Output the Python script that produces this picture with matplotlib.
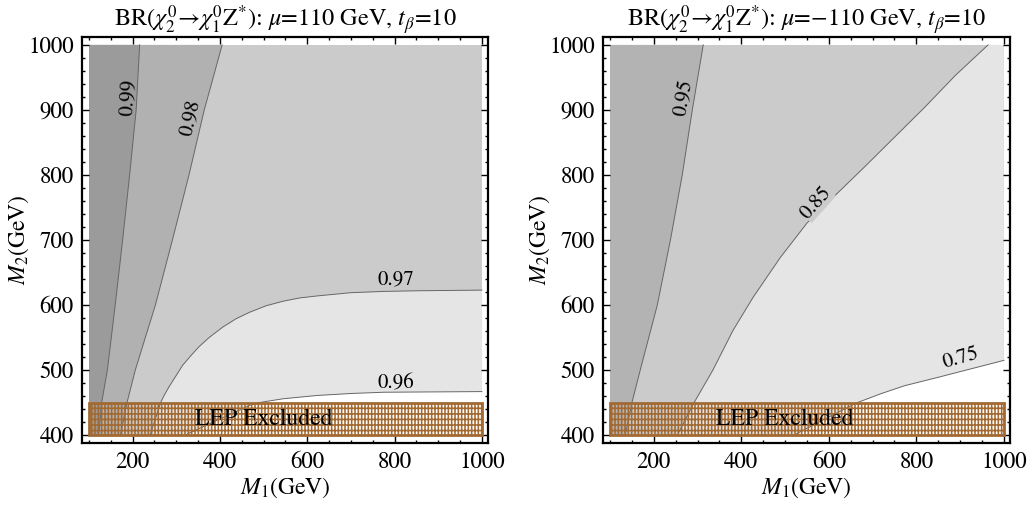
import numpy as np
import matplotlib.pyplot as plt
from matplotlib.patches import Rectangle

plt.rcParams['font.family'] = 'STIXGeneral'
plt.rcParams['mathtext.fontset'] = 'stix'
plt.rcParams['hatch.linewidth'] = 1.15

# grid range of the scan (GeV)
m1_range = [100, 1000]
m2_range = [400, 1000]
lep_m2 = [400, 450]

# left panel, mu = 110 GeV: contour lines
l_c99_y = [400, 450, 500, 600, 700, 800, 900, 1000]
l_c99_x = [122, 129, 142, 160, 177, 193, 208, 216]
l_c98_y = [400, 450, 500, 600, 700, 800, 900, 1000]
l_c98_x = [172, 187, 206, 252, 291, 329, 364, 405]
l_c97_x = [240, 264, 272, 283, 299, 314, 333, 352, 375, 406, 437, 468,
           506, 545, 583, 622, 699, 775, 852, 1000]
l_c97_y = [400, 450, 461, 474, 491, 507, 522, 536, 550, 566, 579, 589,
           599, 606, 611, 614, 619, 621, 622, 623]
l_c96_x = [320, 400, 450, 468, 498, 545, 591, 622, 698, 775, 1000]
l_c96_y = [400, 425, 440, 446, 451, 456, 459, 461, 464, 466, 467]

# right panel, mu = -110 GeV
r_c95_y = [400, 450, 500, 600, 700, 800, 900, 1000]
r_c95_x = [135, 150, 169, 208, 238, 265, 288, 313]
r_c85_x = [254, 292, 335, 381, 427, 489, 550, 581, 612, 681, 750, 819,
           889, 964]
r_c85_y = [400, 450, 500, 561, 612, 673, 726, 748, 767, 812, 858, 904,
           953, 1000]
r_c75_x = [520, 600, 665, 720, 773, 850, 925, 1000]
r_c75_y = [400, 428, 450, 464, 476, 489, 502, 515]

LINE = '#666666'
LEP = '#a26a32'


def fill_left_of(ax, xs, ys, color):
    # region between the left edge and a line x(y)
    px = [m1_range[0]] + list(xs) + [m1_range[0]]
    py = [ys[0]] + list(ys) + [ys[-1]]
    ax.fill(px, py, color=color, lw=0, zorder=1)


def fill_below(ax, xs, ys, color):
    # region under a curve that ends on the right edge
    px = list(xs) + [m1_range[1], xs[0]]
    py = list(ys) + [m2_range[0], m2_range[0]]
    ax.fill(px, py, color=color, lw=0, zorder=1)


def fill_right_of(ax, xs, ys, color):
    px = list(xs) + [m1_range[1], m1_range[1]]
    py = list(ys) + [m2_range[1], m2_range[0]]
    ax.fill(px, py, color=color, lw=0, zorder=1)


def style(ax, title):
    ax.set_xlim(84, 1014)
    ax.set_ylim(388, 1012)
    ax.set_xticks([200, 400, 600, 800, 1000])
    ax.set_xticks(np.arange(100, 1001, 50), minor=True)
    ax.set_yticks([400, 500, 600, 700, 800, 900, 1000])
    ax.set_yticks(np.arange(400, 1001, 20), minor=True)
    ax.tick_params(which='both', direction='in', top=True, right=True,
                   labelsize=16.5, width=1.0)
    ax.tick_params(which='major', length=5, pad=6)
    ax.tick_params(which='minor', length=2.5)
    for s in ax.spines.values():
        s.set_linewidth(1.6)
    ax.set_xlabel(r'$M_1$(GeV)', fontsize=17, labelpad=2)
    ax.set_ylabel(r'$M_2$(GeV)', fontsize=17)
    ax.yaxis.set_label_coords(-0.126, 0.5)
    ax.set_title(title, fontsize=17.5, pad=7)
    lep = Rectangle((m1_range[0], lep_m2[0]), m1_range[1] - m1_range[0],
                    lep_m2[1] - lep_m2[0], facecolor='none', edgecolor=LEP,
                    hatch='|||||---', lw=2, zorder=5)
    ax.add_patch(lep)
    ax.text(500, 425, 'LEP Excluded', fontsize=17, ha='center', va='center',
            zorder=6)


fig = plt.figure(figsize=(10.28, 5.08), dpi=100)
ax1 = fig.add_axes([0.0798, 0.128, 0.3949, 0.799])
ax2 = fig.add_axes([0.5866, 0.128, 0.3959, 0.799])

# left panel
ax1.fill([100, 1000, 1000, 100], [400, 400, 1000, 1000], color='#cbcbcb',
         lw=0, zorder=0)
fill_below(ax1, l_c97_x, l_c97_y, '#e5e5e5')
fill_below(ax1, l_c96_x, l_c96_y, 'white')
fill_left_of(ax1, l_c98_x, l_c98_y, '#b1b1b1')
fill_left_of(ax1, l_c99_x, l_c99_y, '#9b9b9b')
for xs, ys in [(l_c99_x, l_c99_y), (l_c98_x, l_c98_y),
               (l_c97_x, l_c97_y), (l_c96_x, l_c96_y)]:
    ax1.plot(xs, ys, color=LINE, lw=0.7, zorder=2)
ax1.text(190, 919, '0.99', fontsize=15, rotation=87, ha='center',
         va='center', zorder=3)
ax1.text(331, 888, '0.98', fontsize=15, rotation=77, ha='center',
         va='center', zorder=3)
ax1.text(802, 640, '0.97', fontsize=15, ha='center', va='center', zorder=3)
ax1.text(802, 480, '0.96', fontsize=15, ha='center', va='center', zorder=3)
style(ax1, r'BR($\chi^0_2\!\rightarrow\!\chi^0_1\mathrm{Z}^{*}$): $\mu$=110 GeV, $t_\beta$=10')

# right panel
ax2.fill([100, 1000, 1000, 100], [400, 400, 1000, 1000], color='#cbcbcb',
         lw=0, zorder=0)
fill_right_of(ax2, r_c85_x, r_c85_y, '#e5e5e5')
fill_below(ax2, r_c75_x, r_c75_y, 'white')
fill_left_of(ax2, r_c95_x, r_c95_y, '#b3b3b3')
for xs, ys in [(r_c95_x, r_c95_y), (r_c85_x, r_c85_y), (r_c75_x, r_c75_y)]:
    ax2.plot(xs, ys, color=LINE, lw=0.7, zorder=2)
ax2.text(269, 919, '0.95', fontsize=15, rotation=80, ha='center',
         va='center', zorder=3)
ax2.text(572, 757, '0.85', fontsize=15, rotation=48, ha='center',
         va='center', zorder=3, bbox=dict(fc='#cbcbcb', ec='none', pad=0))
ax2.text(902, 518, '0.75', fontsize=15, rotation=16, ha='center',
         va='center', zorder=3)
style(ax2, r'BR($\chi^0_2\!\rightarrow\!\chi^0_1\mathrm{Z}^{*}$): $\mu$=$-$110 GeV, $t_\beta$=10')

fig.savefig('out.png', dpi=100)
